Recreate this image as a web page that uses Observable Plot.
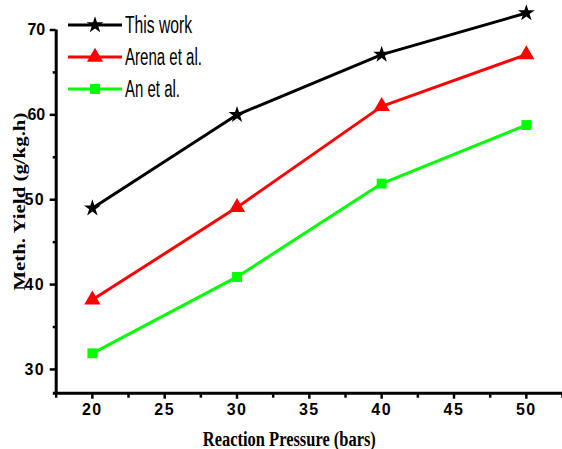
<!DOCTYPE html>
<html>
<head>
<meta charset="utf-8">
<script src="https://cdn.jsdelivr.net/npm/d3@7"></script>
<script src="https://cdn.jsdelivr.net/npm/@observablehq/plot@0.6"></script>
<style>
  html, body { margin: 0; padding: 0; background: #fff; }
  #wrap { position: relative; width: 562px; height: 449px; }
  #legend { position: absolute; left: 0; top: 0; }
</style>
</head>
<body>
<div id="wrap"></div>
<script>
// ---- data ----
const pressures = [20, 30, 40, 50];
const thisWork = [49.0, 60.0, 67.1, 72.0];
const arena = [38.2, 49.1, 61.0, 67.1];
const anEtAl = [31.9, 40.9, 51.9, 58.8];
const seriesNames = ["This work", "Arena et al.", "An et al."];
const seriesColors = ["#000000", "#ff0000", "#00ff00"];
const seriesSymbols = ["star", "triangle", "square"];
const seriesR = [5.3, 6.0, 5.6];
const xMajorTicks = [20, 25, 30, 35, 40, 45, 50];
const xMinorTicks = [17.5, 22.5, 27.5, 32.5, 37.5, 42.5, 47.5, 52.5];
const yMajorTicks = [30, 40, 50, 60, 70];
const yMinorTicks = [35, 45, 55, 65];
const xLabel = "Reaction Pressure (bars)";
const yLabel = "Meth. Yield (g/kg.h)";

const allSeries = [thisWork, arena, anEtAl];
const rows = [];
allSeries.forEach((vals, s) => {
  vals.forEach((v, i) => rows.push({series: seriesNames[s], x: pressures[i], y: v}));
});

const xDomain = [17.5, 52.5];
const yDomain = [27.2, 70];
const tickFont = "'Liberation Sans Narrow', 'Arial Narrow', 'Liberation Sans', Arial, sans-serif";
const titleFont = "'Liberation Serif', 'Times New Roman', serif";

const marks = [
  // axis lines
  Plot.ruleY([yDomain[0]], {x1: xDomain[0] - 0.2, x2: xDomain[1], stroke: "#000", strokeWidth: 3}),
  Plot.ruleX([xDomain[0]], {y1: yDomain[0], y2: yDomain[1], stroke: "#000", strokeWidth: 3}),
  // x ticks
  Plot.axisX({ticks: xMajorTicks, tickSize: 6, tickPadding: 4, strokeWidth: 2.5, label: null,
    fontSize: 16, fontWeight: "bold", fontFamily: tickFont}),
  Plot.axisX({ticks: xMinorTicks, tickSize: 5, strokeWidth: 2.5, text: null, label: null}),
  // y ticks
  Plot.axisY({ticks: yMajorTicks, tickSize: 6, tickPadding: 5, strokeWidth: 2.5, label: null,
    fontSize: 16, fontWeight: "bold", fontFamily: tickFont}),
  Plot.axisY({ticks: yMinorTicks, tickSize: 3, strokeWidth: 2.5, text: null, label: null}),
  // axis titles
  Plot.text([xLabel], {frameAnchor: "bottom", text: d => d, dx: -20, dy: 46, lineAnchor: "middle",
    fontSize: 20, fontWeight: "bold", fontFamily: titleFont, fill: "#000"}),
  Plot.text([yLabel], {frameAnchor: "left", text: d => d, rotate: -90, dx: -37, dy: -10, lineAnchor: "middle",
    fontSize: 17, fontWeight: "bold", fontFamily: titleFont, fill: "#000"}),
  // data lines
  Plot.line(rows, {x: "x", y: "y", z: "series", stroke: "series", strokeWidth: 3}),
  Plot.dot(rows, {x: "x", y: "y", symbol: "series", fill: "series", stroke: null,
    r: d => seriesR[seriesNames.indexOf(d.series)]})
];

const chart = Plot.plot({
  width: 562,
  height: 449,
  marginLeft: 55.7,
  marginRight: 0,
  marginTop: 29.5,
  marginBottom: 56.3,
  x: {domain: xDomain, axis: null},
  y: {domain: yDomain, axis: null},
  color: {domain: seriesNames, range: seriesColors},
  symbol: {domain: seriesNames, range: seriesSymbols},
  r: {type: "identity"},
  style: {background: "#fff", overflow: "visible"},
  marks
});
document.getElementById("wrap").appendChild(chart);

// condensed look for the axis titles (fit text to measured widths, start-anchored)
const titleLen = {[xLabel]: 173, [yLabel]: 178};
d3.select(chart).selectAll("text").each(function() {
  const t = this.textContent;
  if (titleLen[t]) {
    this.setAttribute("text-anchor", "start");
    this.setAttribute("x", -titleLen[t] / 2);
    this.setAttribute("textLength", titleLen[t]);
    this.setAttribute("lengthAdjust", "spacingAndGlyphs");
  }
});
// slight letter spacing on x tick labels
d3.select(chart).selectAll("text").each(function() {
  if (xMajorTicks.map(String).includes(this.textContent)) {
    this.style.letterSpacing = "1.5px";
  }
});

// ---- legend (overlay) ----
const legendRows = [25, 57, 89];
const legendTextLen = [67, 77, 55];
const symMap = {star: d3.symbolStar, triangle: d3.symbolTriangle, square: d3.symbolSquare};
const lg = d3.select("#wrap").append("svg")
  .attr("id", "legend").attr("width", 562).attr("height", 120);
seriesNames.forEach((name, i) => {
  const y = legendRows[i];
  lg.append("line").attr("x1", 68).attr("x2", 122).attr("y1", y).attr("y2", y)
    .attr("stroke", seriesColors[i]).attr("stroke-width", 3);
  const r = seriesR[i];
  lg.append("path").attr("transform", `translate(95,${y})`)
    .attr("d", d3.symbol(symMap[seriesSymbols[i]], Math.PI * r * r)())
    .attr("fill", seriesColors[i]);
  lg.append("text").attr("x", 125).attr("y", y + 8)
    .attr("font-family", "'Liberation Sans Narrow', 'Liberation Sans', Arial, sans-serif")
    .attr("font-size", 23)
    .attr("textLength", legendTextLen[i]).attr("lengthAdjust", "spacingAndGlyphs")
    .attr("fill", "#000")
    .text(name);
});
</script>
</body>
</html>
